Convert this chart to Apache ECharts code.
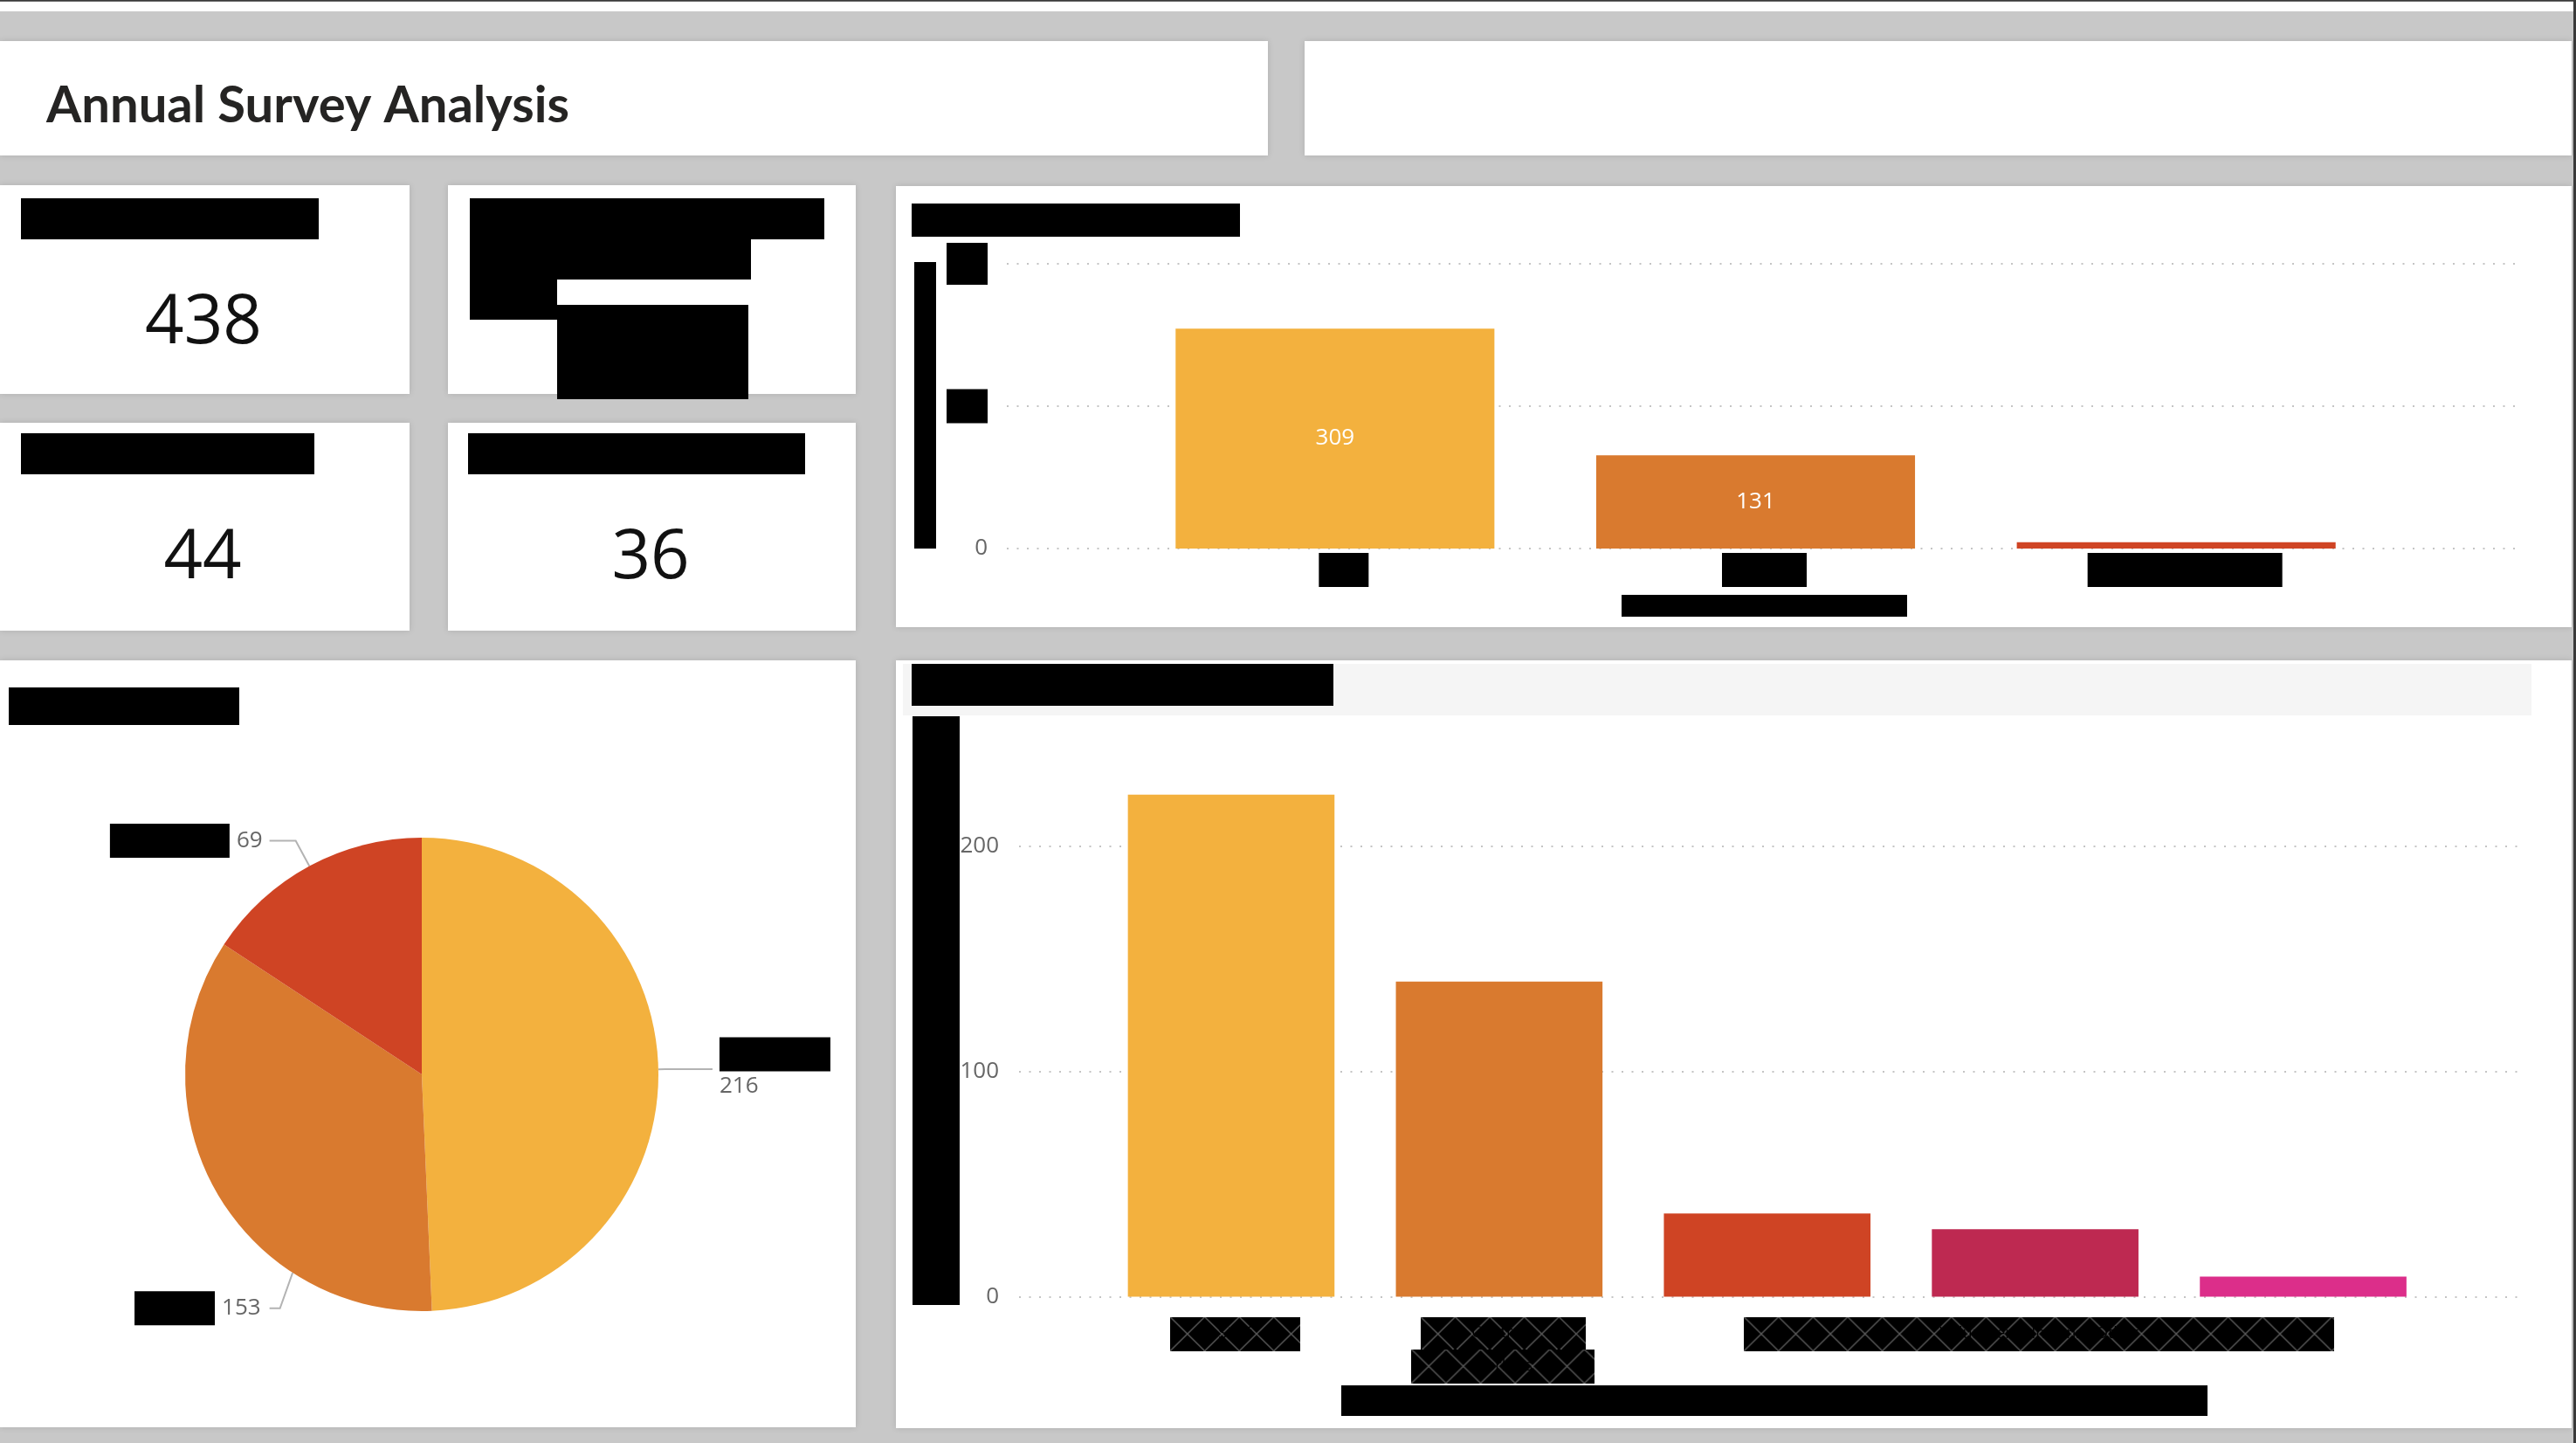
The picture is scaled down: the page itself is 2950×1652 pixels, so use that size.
<!DOCTYPE html>
<html><head><meta charset="utf-8">
<script src="https://cdn.jsdelivr.net/npm/echarts@6/dist/echarts.min.js"></script>
<style>html,body{margin:0;padding:0;background:#c8c8c8;overflow:hidden}#c{width:2950px;height:1652px}</style>
</head><body><div id="c"></div><script>
// ---------- data ----------
const reportTitle = 'Annual Survey Analysis';
const kpiLabels = ['Total Responses', 'Most Common Answer', 'Respondents Under 25', 'Open Comments'];
const kpiValues = ['438', 'Satisfied', '44', '36'];
const statusCategories = ['Yes', 'No', 'Not answered'];
const statusValues = [309, 131, 9];
const statusTicks = [0, 200, 400];
const pieCategories = ['Satisfied', 'Neutral', 'Dissatisfied'];
const pieValues = [216, 153, 69];
const groupCategories = ['Staff', 'Contract workers', 'Volunteers', 'Interns', 'Other'];
const groupValues = [223, 140, 37, 30, 9];
const groupTicks = [0, 100, 200];
const chartTitles = ['Responses by Status', 'Satisfaction Breakdown', 'Responses by Respondent Type'];
const axisTitles = ['Count of Responses', 'Status', 'Count of Responses', 'Respondent Type'];

// ---------- style ----------
const FF = '"Segoe UI","Open Sans","Noto Sans",sans-serif';
const palette = ['#F3B13E', '#D97A2F', '#CF4424', '#BE2951', '#DC2E8A'];
const gridColor = '#c4c4c4';
const labelGray = '#666666';
const pieCenter = [483, 1230];
const pieRadius = 271;

const graphics = [];
function rect(x, y, w, h, fill, z, extra) {
  graphics.push({type: 'rect', z: z || 0, silent: true, shape: {x, y, width: w, height: h},
    style: Object.assign({fill}, extra || {})});
}
function panel(x, y, w, h) {
  rect(x, y, w, h, '#ffffff', -20, {shadowBlur: 7, shadowColor: 'rgba(0,0,0,0.13)'});
}
function redact(x, y, w, h, text, vertical) {
  const len = vertical ? h : w, thick = vertical ? w : h;
  graphics.push({type: 'group', x, y, children: [
    {type: 'rect', z: 5, shape: {x: 0, y: 0, width: w, height: h}, style: {fill: '#000'}},
    {type: 'text', z: 6, x: w / 2, y: h / 2, rotation: vertical ? Math.PI / 2 : 0,
      style: {text, fill: '#000', fontSize: Math.round(Math.min(thick, 40) * 0.6), fontFamily: FF,
        align: 'center', verticalAlign: 'middle', width: len - 6, overflow: 'truncate'}}
  ]});
}
function hatch(w, h) {
  const c = document.createElement('canvas');
  c.width = Math.round(w); c.height = Math.round(h);
  const g = c.getContext('2d');
  g.fillStyle = '#000'; g.fillRect(0, 0, c.width, c.height);
  g.strokeStyle = '#5c5c5c'; g.lineWidth = 1.4;
  const cw = 39.6;
  g.beginPath();
  for (let x = -cw; x < c.width + cw; x += cw) {
    g.moveTo(x, 0); g.lineTo(x + cw, 39);
    g.moveTo(x, 39); g.lineTo(x + cw, 0);
  }
  g.stroke();
  return c;
}

// ---------- page frame ----------
rect(0, 0, 2950, 13, '#ffffff', -30);
rect(0, 0, 2950, 1.7, '#3a3a3a', -29);
rect(2947, 0, 3, 1652, '#3a3a3a', -29);
panel(0, 47, 1452, 131);
panel(1494, 47, 1451, 131);
panel(0, 212, 469, 239);
panel(513, 212, 467, 239);
panel(0, 484, 469, 238);
panel(513, 484, 467, 238);
panel(1026, 213, 1919, 505);
panel(0, 756, 980, 878);
panel(1026, 756, 1919, 879);
rect(1034, 760, 1865, 59, '#f5f5f5', -15);

graphics.push({type: 'text', z: 5, x: 53, y: 121,
  style: {text: reportTitle, fontSize: 58, fontWeight: 'bold', fontFamily: 'Lato,' + FF, fill: '#252423',
    align: 'left', verticalAlign: 'middle'}});

// KPI cards
redact(24, 227, 341, 47, kpiLabels[0]);
redact(24, 496, 336, 47, kpiLabels[2]);
redact(536, 496, 386, 47, kpiLabels[3]);
redact(538, 227, 406, 47, 'Most Common');
redact(538, 274, 322, 46, 'Answer');
redact(538, 320, 100, 46, '');
redact(638, 349, 219, 108, kpiValues[1]);
[[0, 233, 371], [2, 232, 640], [3, 745, 640]].forEach(([i, x, y]) => {
  graphics.push({type: 'text', z: 5, x, y,
    style: {text: kpiValues[i], fontSize: 78, fontFamily: FF, fill: '#111',
      align: 'center', verticalAlign: 'middle'}});
});

// chart titles / axis titles
redact(1044, 233, 376, 38, chartTitles[0]);
redact(10, 787, 264, 43, chartTitles[1]);
redact(1044, 760, 483, 48, chartTitles[2]);
redact(1047, 300, 25, 328, axisTitles[0], true);
redact(1857, 681, 327, 25, axisTitles[1]);
redact(1045, 820, 54, 674, axisTitles[2], true);
redact(1536, 1586, 992, 35, axisTitles[3]);

// ---------- chart ----------
const chart = echarts.init(document.getElementById('c'), null, {width: 2950, height: 1652});

const topRich = {sp: {width: 20}};
[57, 97, 223].forEach((w, i) => {
  topRich['b' + i] = {width: w, height: 39, lineHeight: 39, backgroundColor: '#000', color: '#000',
    fontSize: 18, fontFamily: FF, align: 'center'};
});
const yRich = {};
statusTicks.forEach(t => {
  yRich['k' + t] = {width: 47, height: t === statusTicks[statusTicks.length - 1] ? 48 : 39,
    backgroundColor: '#000', color: '#000', fontSize: 18, align: 'center'};
});
function hstyle(w, h) {
  return {width: w, height: h, lineHeight: h, backgroundColor: {image: hatch(w, h)}, color: '#000',
    fontSize: 18, fontFamily: FF, align: 'center'};
}
const botRich = {sp: {width: 9}, h0: hstyle(149, 39), h1a: hstyle(189, 37), h1b: hstyle(210, 39), hw: hstyle(676, 39)};

const pieRich = {
  v: {color: labelGray, fontSize: 26, fontFamily: FF, lineHeight: 34},
  gap: {width: 8}
};
[127, 92, 137].forEach((w, i) => {
  pieRich['n' + i] = {width: w, height: 39, lineHeight: 39, backgroundColor: '#000', color: '#000',
    fontSize: 18, fontFamily: FF, align: 'center'};
});
const pieLineLen = [[8, 54], [10, 50], [33, 30]];

// label of the 2nd slice is moved down-right, its leader goes to the nearest point of the circle
function pieLabelLayout(p) {
  if (p.dataIndex !== 1) return {};
  const x = p.labelRect.x + p.labelRect.width + 118;
  const y = p.labelRect.y + p.labelRect.height / 2 + 129;
  const ex = x + 10;
  const dx = ex - pieCenter[0], dy = y - pieCenter[1], d = Math.hypot(dx, dy);
  const cp = [pieCenter[0] + dx / d * pieRadius, pieCenter[1] + dy / d * pieRadius];
  return {x, y, labelLinePoints: [cp, [ex + 12, y], [ex, y]]};
}

const dotted = {color: gridColor, width: 2, type: [2, 9.5]};

const option = {
  animation: false,
  backgroundColor: '#c8c8c8',
  graphic: {elements: graphics},
  grid: [
    {left: 1153, right: 68, top: 302, bottom: 1024},
    {left: 1288, right: 217, top: 302, bottom: 1024},
    {left: 1167, right: 65, top: 969, bottom: 167.4},
    {left: 1256.5, right: 159, top: 969, bottom: 167.4}
  ],
  xAxis: [
    {gridIndex: 0, type: 'category', data: [''], show: false},
    {gridIndex: 1, type: 'category', data: statusCategories,
      axisLine: {show: false}, axisTick: {show: false},
      axisLabel: {interval: 0, margin: 5, formatter: (v, i) => `{sp|}{b${i}|${v}}`, rich: topRich}},
    {gridIndex: 2, type: 'category', data: [''], show: false},
    {gridIndex: 3, type: 'category', data: groupCategories,
      axisLine: {show: false}, axisTick: {show: false},
      axisLabel: {interval: 0, margin: 23, rich: botRich, formatter: (v, i) => {
        if (i === 0) return `{sp|}{h0|${v}}`;
        if (i === 1) { const p = v.split(' '); return `{sp|}{h1a|${p[0]}}\n{sp|}{h1b|${p.slice(1).join(' ')}}`; }
        if (i === 3) return `{sp|}{hw|${groupCategories.slice(2).join(' · ')}}`;
        return '';
      }}}
  ],
  yAxis: [
    {gridIndex: 0, type: 'value', min: statusTicks[0], max: statusTicks[statusTicks.length - 1],
      interval: statusTicks[1] - statusTicks[0],
      axisLine: {show: false}, axisTick: {show: false}, splitLine: {lineStyle: dotted},
      axisLabel: {margin: 22, color: labelGray, fontSize: 26, fontFamily: FF, rich: yRich,
        formatter: v => v === 0 ? '0' : `{k${v}|${v}}`}},
    {gridIndex: 1, type: 'value', min: statusTicks[0], max: statusTicks[statusTicks.length - 1], show: false},
    {gridIndex: 2, type: 'value', min: groupTicks[0], max: groupTicks[groupTicks.length - 1],
      interval: groupTicks[1] - groupTicks[0],
      axisLine: {show: false}, axisTick: {show: false}, splitLine: {lineStyle: dotted},
      axisLabel: {margin: 23, color: labelGray, fontSize: 26, fontFamily: FF}},
    {gridIndex: 3, type: 'value', min: groupTicks[0], max: groupTicks[groupTicks.length - 1], show: false}
  ],
  series: [
    {type: 'bar', xAxisIndex: 1, yAxisIndex: 1, data: statusValues, barCategoryGap: '24.2%',
      itemStyle: {color: p => palette[p.dataIndex]},
      label: {show: true, position: 'inside', color: '#fff', fontSize: 26, fontFamily: FF,
        formatter: p => p.value >= 30 ? p.value : ''}},
    {type: 'bar', xAxisIndex: 3, yAxisIndex: 3, data: groupValues, barCategoryGap: '22.9%', clip: false,
      itemStyle: {color: p => palette[p.dataIndex]}},
    {type: 'pie', center: pieCenter, radius: pieRadius, startAngle: 90, clockwise: true,
      avoidLabelOverlap: false, color: palette,
      data: pieValues.map((v, i) => ({value: v, name: pieCategories[i],
        labelLine: {length: pieLineLen[i][0], length2: pieLineLen[i][1]}})),
      label: {show: true, distanceToLabelLine: 8, rich: pieRich,
        formatter: p => p.dataIndex === 0
          ? `{n0|${p.name}}\n{v|${p.value}}`
          : `{n${p.dataIndex}|${p.name}}{gap|}{v|${p.value}}`},
      labelLine: {show: true, lineStyle: {color: '#b3b3b3', width: 2}},
      labelLayout: pieLabelLayout}
  ]
};
chart.setOption(option);
</script></body></html>
